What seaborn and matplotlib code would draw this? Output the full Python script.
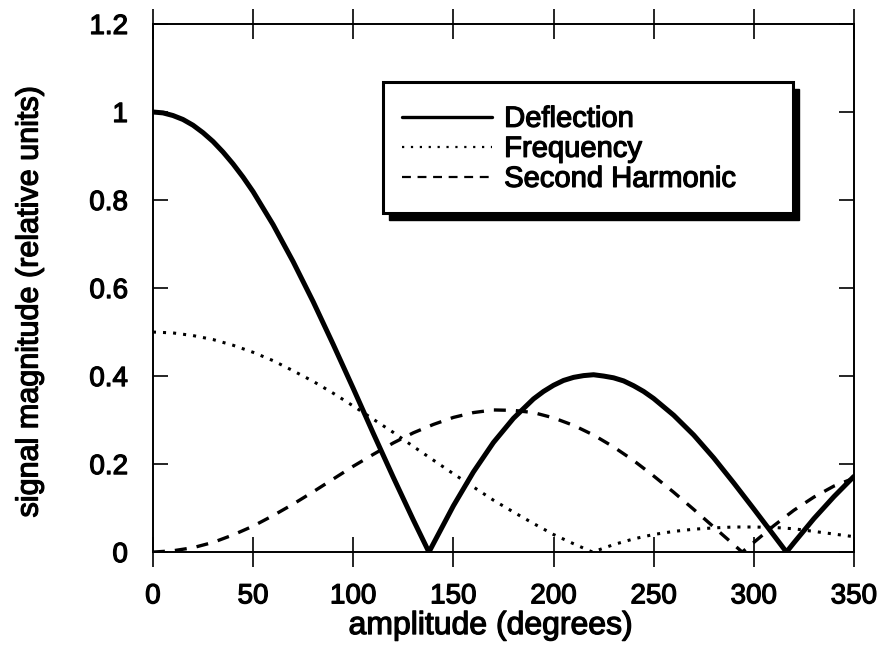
import matplotlib
matplotlib.use('Agg')
import matplotlib.pyplot as plt
import matplotlib.patheffects as pe
import seaborn as sns
from matplotlib.lines import Line2D
from matplotlib.patches import Rectangle

# values (amplitude in degrees)
deflection_deg = [0, 5, 10, 15, 20, 25, 30, 35, 40, 45, 50, 60, 70, 80, 90, 100, 110,
                  120, 130, 137.8, 140, 150, 160, 170, 180, 190, 195, 200, 205, 210,
                  215, 220, 225, 230, 235, 240, 245, 250, 260, 270, 280, 290, 300,
                  310, 316.3, 320, 330, 340, 350]
deflection = [1.000, 0.998, 0.992, 0.983, 0.970, 0.953, 0.933, 0.909, 0.882, 0.852,
              0.819, 0.744, 0.660, 0.569, 0.472, 0.372, 0.270, 0.170, 0.073, 0.000,
              0.019, 0.105, 0.182, 0.249, 0.304, 0.348, 0.365, 0.379, 0.390, 0.397,
              0.401, 0.403, 0.400, 0.396, 0.389, 0.378, 0.365, 0.349, 0.311, 0.266,
              0.214, 0.157, 0.098, 0.038, 0.000, 0.021, 0.076, 0.126, 0.172]

frequency_deg = [0, 10, 20, 30, 40, 50, 60, 70, 80, 90, 100, 110, 120, 130, 140, 150,
                 160, 170, 180, 190, 200, 210, 219.5, 230, 240, 250, 260, 270, 280,
                 290, 300, 310, 320, 330, 340, 350]
frequency = [0.500, 0.498, 0.492, 0.483, 0.470, 0.454, 0.435, 0.412, 0.388, 0.361,
             0.332, 0.302, 0.272, 0.240, 0.209, 0.178, 0.148, 0.118, 0.091, 0.065,
             0.040, 0.019, 0.000, 0.017, 0.030, 0.040, 0.047, 0.052, 0.055, 0.057,
             0.057, 0.056, 0.053, 0.047, 0.041, 0.035]

harmonic_deg = [0, 10, 20, 30, 40, 50, 60, 70, 80, 90, 100, 110, 120, 130, 140, 150,
                160, 170, 180, 190, 200, 210, 220, 230, 240, 250, 260, 270, 280, 290,
                294.2, 300, 310, 320, 330, 340, 350]
harmonic = [0.000, 0.003, 0.010, 0.022, 0.039, 0.059, 0.083, 0.109, 0.137, 0.166,
            0.195, 0.222, 0.248, 0.271, 0.290, 0.306, 0.317, 0.323, 0.322, 0.317,
            0.305, 0.288, 0.266, 0.239, 0.208, 0.173, 0.136, 0.097, 0.057, 0.017,
            0.000, 0.022, 0.060, 0.095, 0.125, 0.150, 0.168]

x_ticks = [0, 50, 100, 150, 200, 250, 300, 350]
y_ticks = [0, 0.2, 0.4, 0.6, 0.8, 1.0, 1.2]
y_labels = ['0', '0.2', '0.4', '0.6', '0.8', '1', '1.2']
series_names = ['Deflection', 'Frequency', 'Second Harmonic']

sns.set_style('white')
plt.rcParams['font.family'] = ['Liberation Sans', 'DejaVu Sans']
plt.rcParams['text.color'] = 'black'
plt.rcParams['axes.labelcolor'] = 'black'

# scanned Helvetica looks a bit heavier than plain regular
heavy = [pe.withStroke(linewidth=0.9, foreground='black')]

fig, ax = plt.subplots(figsize=(8.84, 6.48), dpi=100)
fig.subplots_adjust(left=0.173, right=0.966, top=0.963, bottom=0.148)

dot_style = (0, (1, 2.3))
dash_style = (0, (3.6, 3.0))

sns.lineplot(x=deflection_deg, y=deflection, ax=ax, color='black', lw=3.6)
sns.lineplot(x=frequency_deg, y=frequency, ax=ax, color='black', lw=2.2, linestyle=dot_style)
sns.lineplot(x=harmonic_deg, y=harmonic, ax=ax, color='black', lw=2.4, linestyle=dash_style)

ax.set_xlim(0, 350)
ax.set_ylim(0, 1.2)
ax.set_xticks(x_ticks)
ax.set_yticks(y_ticks, labels=y_labels)
for s in ax.spines.values():
    s.set_color('black')
    s.set_linewidth(1.4)
ax.tick_params(axis='x', direction='inout', length=21, width=1.2, top=True,
               bottom=True, pad=12, labelsize=20, colors='black')
ax.tick_params(axis='y', direction='in', length=11, width=1.2, left=True,
               right=True, pad=18, labelsize=20, colors='black')

ax.set_xlabel('amplitude (degrees)', fontsize=23)
ax.set_ylabel('signal magnitude (relative units)', fontsize=22)
ax.xaxis.set_label_coords(0.482, -0.140)
ax.yaxis.set_label_coords(-0.176, 0.4725)
ax.xaxis.label.set_va('center')
ax.yaxis.label.set_va('center')

# legend box with a solid drop shadow
bx, by, bw, bh = 0.328, 0.642, 0.585, 0.248
ax.add_patch(Rectangle((bx + 0.009, by - 0.014), bw, bh, transform=ax.transAxes,
                       facecolor='black', edgecolor='black', zorder=5))
ax.add_patch(Rectangle((bx, by), bw, bh, transform=ax.transAxes,
                       facecolor='white', edgecolor='black', lw=2.2, zorder=6))

handles = [Line2D([], [], color='black', lw=2.4),
           Line2D([], [], color='black', lw=1.6, linestyle=(0, (1, 3))),
           Line2D([], [], color='black', lw=1.6, linestyle=(0, (4, 3)))]
leg = ax.legend(handles, series_names, loc='upper left', bbox_to_anchor=(0.355, 0.847),
                frameon=False, prop={'size': 21}, handlelength=3.1,
                handletextpad=0.41, borderpad=0, borderaxespad=0, labelspacing=0.07)
leg.set_zorder(7)

texts = ax.get_xticklabels() + ax.get_yticklabels() + leg.get_texts()
texts += [ax.xaxis.label, ax.yaxis.label]
for t in texts:
    t.set_path_effects(heavy)

fig.savefig('out.png', dpi=100)
